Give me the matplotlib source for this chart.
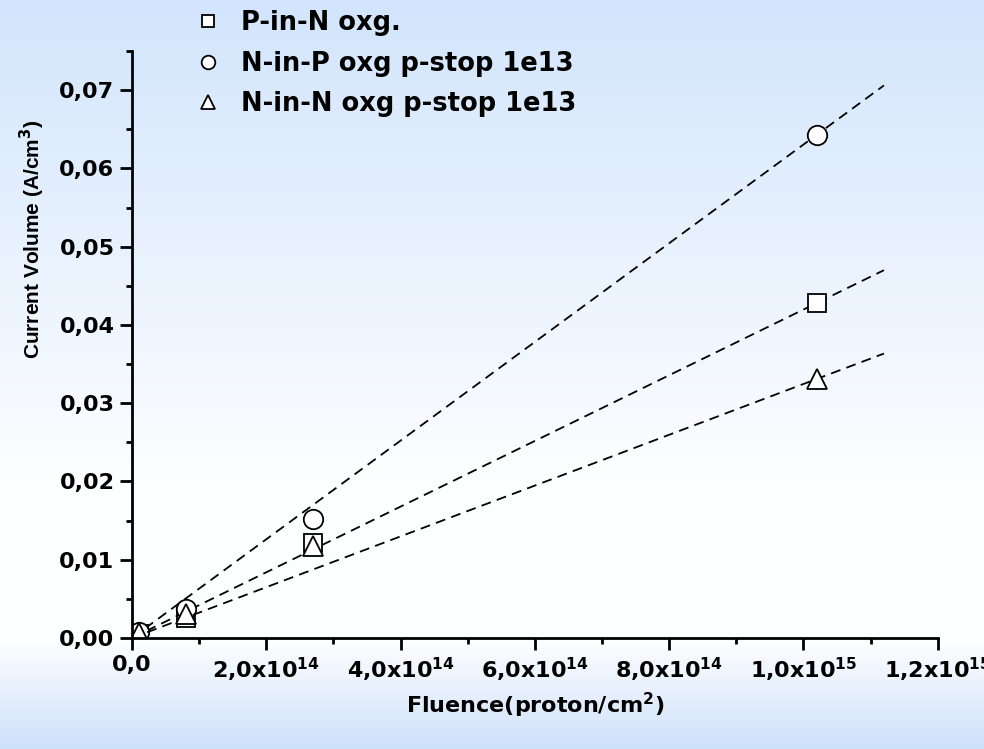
import matplotlib
matplotlib.use("Agg")
import matplotlib.pyplot as plt
import numpy as np

plt.rcParams['font.family'] = ['DejaVu Sans']
plt.rcParams['font.weight'] = 'bold'
plt.rcParams['axes.labelweight'] = 'bold'
plt.rcParams['mathtext.fontset'] = 'dejavusans'
plt.rcParams['mathtext.default'] = 'bf'

# fluence (proton/cm2)
fluence = np.array([1e13, 8e13, 2.7e14, 1.02e15])
# current volume (A/cm3)
p_in_n = np.array([0.0005, 0.0026, 0.0121, 0.0428])
n_in_p = np.array([0.0008, 0.0037, 0.0152, 0.0643])
n_in_n = np.array([0.0006, 0.0031, 0.0118, 0.0331])

labels = ['P-in-N oxg.', 'N-in-P oxg p-stop 1e13', 'N-in-N oxg p-stop 1e13']

x_ticks = [0, 2e14, 4e14, 6e14, 8e14, 1e15, 1.2e15]
x_ticklabels = ['0,0', '2,0x10$^{14}$', '4,0x10$^{14}$', '6,0x10$^{14}$',
                '8,0x10$^{14}$', '1,0x10$^{15}$', '1,2x10$^{15}$']
y_ticks = [0, 0.01, 0.02, 0.03, 0.04, 0.05, 0.06, 0.07]
y_ticklabels = ['0,00', '0,01', '0,02', '0,03', '0,04', '0,05', '0,06', '0,07']

fig = plt.figure(figsize=(9.84, 7.49), dpi=100)

# gradient background
bg = fig.add_axes([0, 0, 1, 1], zorder=0)
rows = np.arange(749)
stops = [0, 480, 640, 748]
cols = np.array([[210, 229, 252], [253, 254, 255], [253, 254, 255], [206, 225, 250]]) / 255
grad = np.stack([np.interp(rows, stops, cols[:, i]) for i in range(3)], axis=1)[:, None, :]
bg.imshow(grad, aspect='auto', extent=[0, 1, 0, 1], origin='upper')
bg.axis('off')

ax = fig.add_axes([0.1341, 0.1482, 0.8188, 0.7837], zorder=1)
ax.patch.set_alpha(0)

xfit = np.array([0, 1.12e15])
series = [(p_in_n, 's', 12.5), (n_in_p, 'o', 14), (n_in_n, '^', 15)]
handles = []
for (y, m, ms), lab in zip(series, labels):
    # straight line from the origin through the highest-fluence point
    k = y[-1] / fluence[-1]
    ax.plot(xfit, k * xfit, color='black', lw=1.3, dashes=(5.5, 3.5))
    h, = ax.plot(fluence, y, ls='none', marker=m, ms=ms, mfc='white',
                 mec='black', mew=1.3, label=lab)
    handles.append(h)

ax.set_xlim(0, 1.2e15)
ax.set_ylim(0, 0.075)
ax.set_xticks(x_ticks)
ax.set_xticklabels(x_ticklabels)
ax.set_xticks(np.arange(1e14, 1.2e15, 2e14), minor=True)
ax.set_yticks(y_ticks)
ax.set_yticklabels(y_ticklabels)
ax.set_yticks(np.arange(0.005, 0.076, 0.01), minor=True)

for s in ['top', 'right']:
    ax.spines[s].set_visible(False)
for s in ['left', 'bottom']:
    ax.spines[s].set_linewidth(2)
ax.tick_params(which='major', direction='out', length=8.6, width=2, labelsize=16, pad=4)
ax.tick_params(which='minor', direction='out', length=4.5, width=2)

ax.set_xlabel('Fluence(proton/cm$^{2}$)', fontsize=16, labelpad=5)
ax.set_ylabel('Current Volume (A/cm$^{3}$)', fontsize=15, family='Liberation Sans')
ax.yaxis.set_label_coords(-0.105, 0.68)

fig.legend(handles=handles, loc='upper left', bbox_to_anchor=(0.198, 0.986),
           frameon=False, fontsize=18.5, markerscale=0.7, borderpad=0,
           borderaxespad=0, handlelength=1.0, handletextpad=0.8, labelspacing=0.56)

fig.savefig('out.png', dpi=100)
